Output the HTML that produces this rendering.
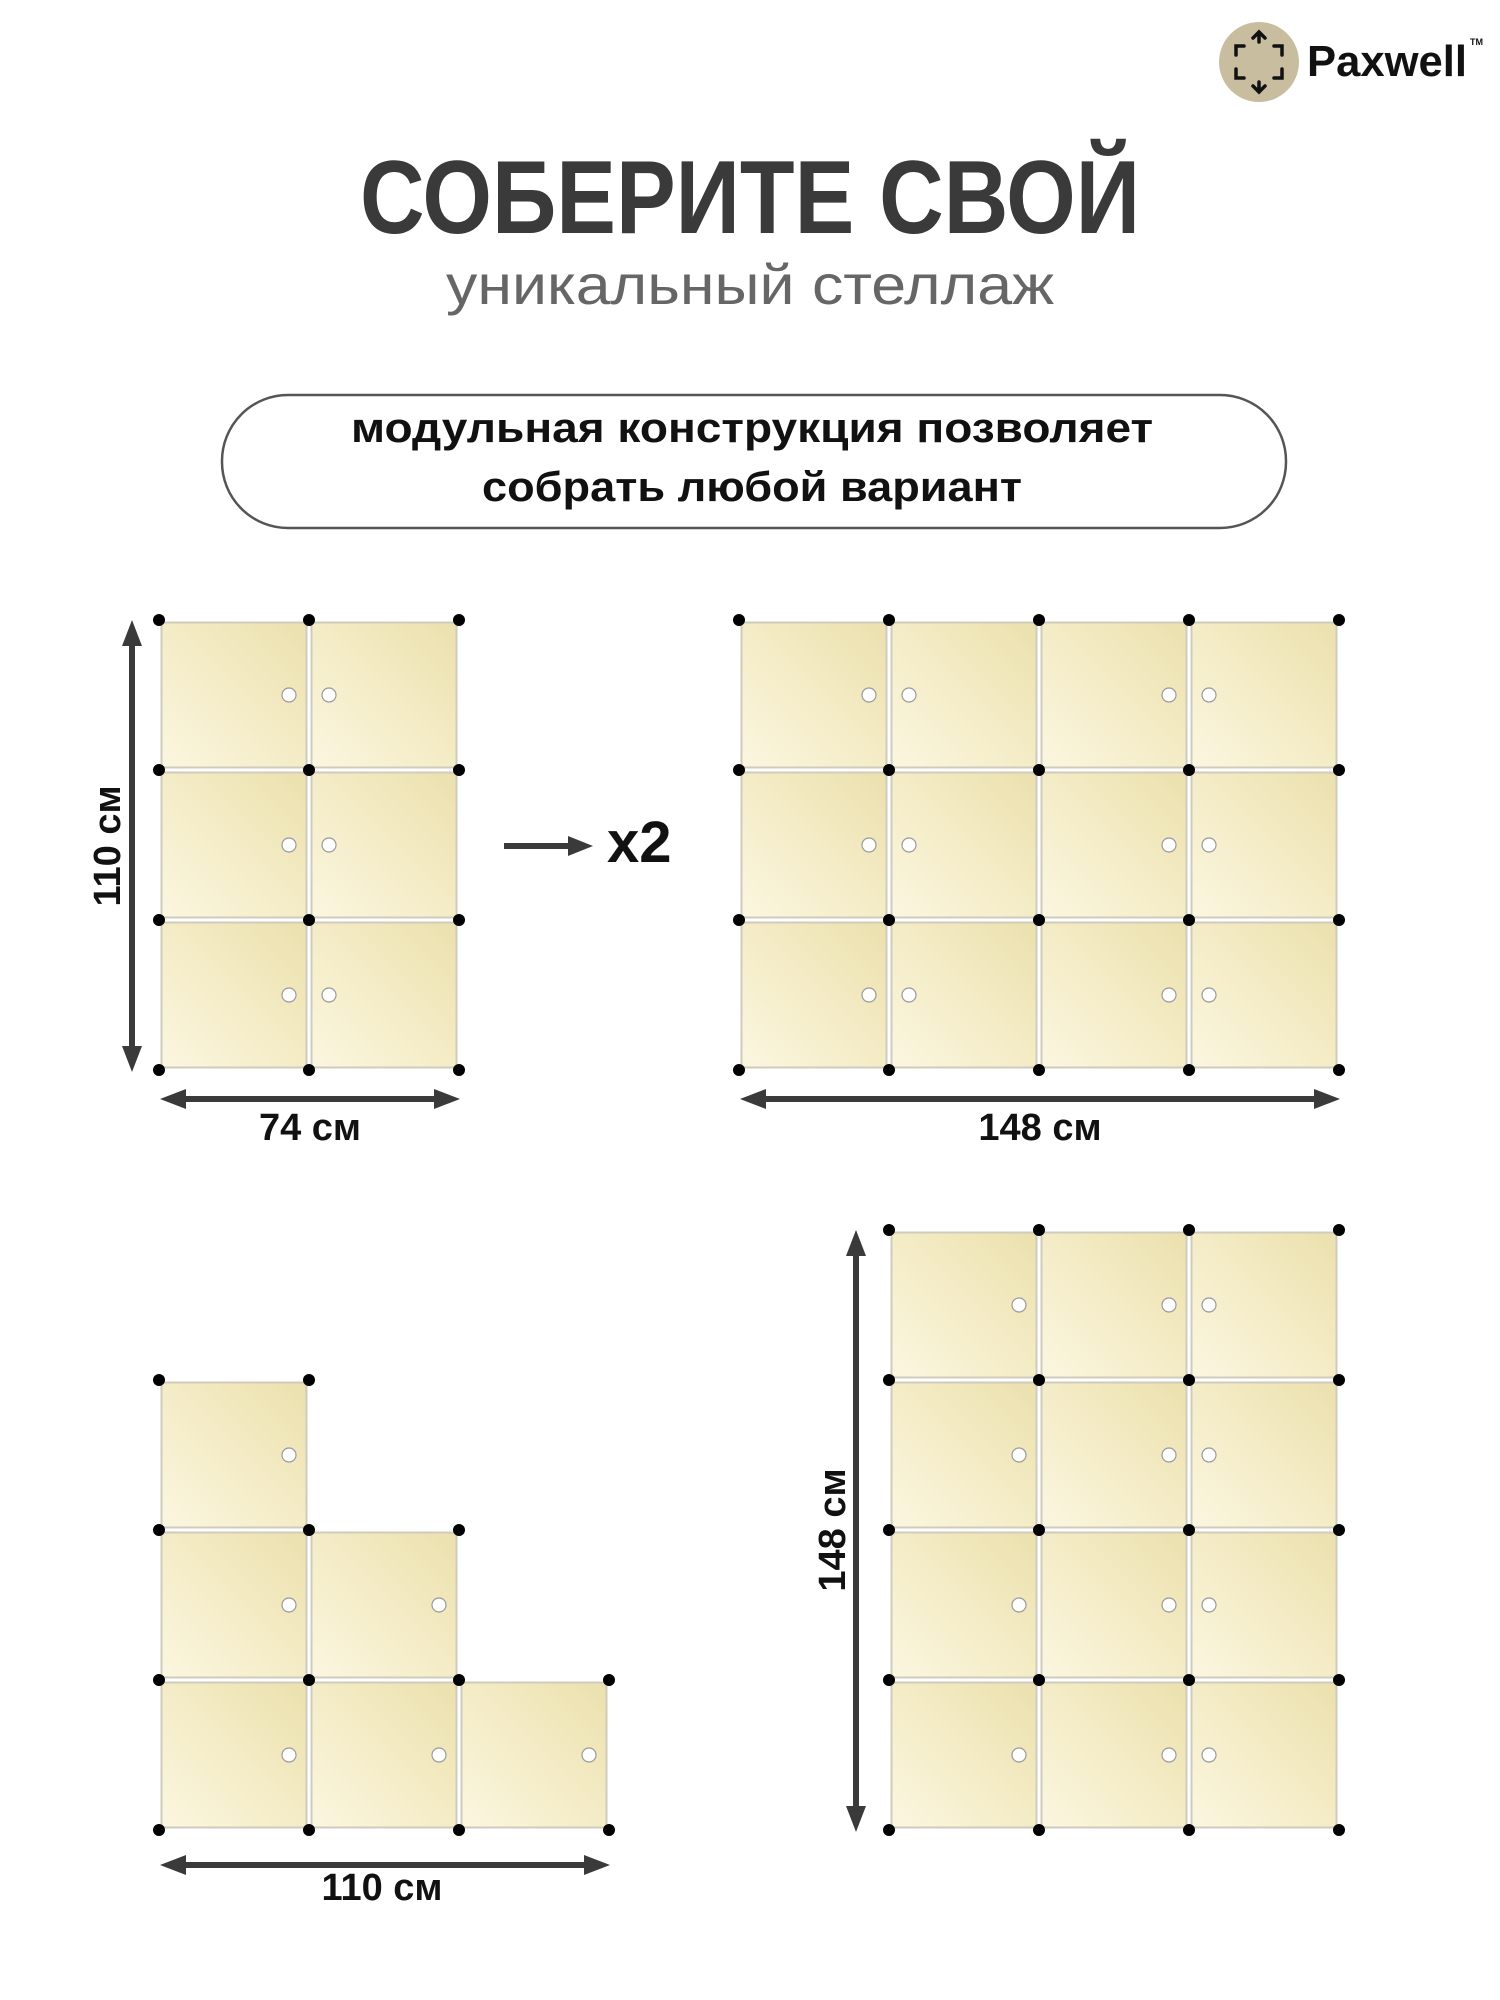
<!DOCTYPE html>
<html><head><meta charset="utf-8"><style>
html,body{margin:0;padding:0;background:#fff;}
svg{display:block;}
text{font-family:"Liberation Sans",sans-serif;}
</style></head><body>
<svg width="1500" height="2000" viewBox="0 0 1500 2000" xmlns="http://www.w3.org/2000/svg">
<defs>
<linearGradient id="g" x1="0" y1="1" x2="1" y2="0">
<stop offset="0" stop-color="#fbf6e0"/><stop offset="0.5" stop-color="#f4ecc6"/><stop offset="1" stop-color="#ebe0ad"/>
</linearGradient>
<g id="c"><rect x="2.5" y="2.5" width="145" height="145" fill="url(#g)" stroke="#cfcbbd" stroke-width="2"/></g>
<g id="R"><use href="#c"/><circle cx="130" cy="75" r="7" fill="#fff" stroke="#9a9a9a" stroke-width="1.2"/></g>
<g id="L"><use href="#c"/><circle cx="20" cy="75" r="7" fill="#fff" stroke="#9a9a9a" stroke-width="1.2"/></g>
<circle id="d" r="6" fill="#000"/>
</defs>

<!-- logo -->
<circle cx="1259" cy="62" r="40" fill="#c9bd9f"/>
<g stroke="#111" stroke-width="3.5" fill="none" stroke-linecap="round">
<path d="M1253 38 L1259 32 L1265 38 M1259 32 L1259 42"/>
<path d="M1253 86 L1259 92 L1265 86 M1259 92 L1259 82"/>
<path d="M1236 55 L1236 46 L1244 46"/>
<path d="M1282 55 L1282 46 L1274 46"/>
<path d="M1236 69 L1236 78 L1244 78"/>
<path d="M1282 69 L1282 78 L1274 78"/>
</g>
<text x="1307" y="76" font-size="44" font-weight="bold" fill="#111" textLength="160" lengthAdjust="spacingAndGlyphs">Paxwell</text>
<text x="1470" y="45" font-size="9" font-weight="bold" fill="#111">TM</text>

<!-- title -->
<text x="750" y="233" text-anchor="middle" font-size="104" font-weight="bold" fill="#3a3a3a" textLength="780" lengthAdjust="spacingAndGlyphs">СОБЕРИТЕ СВОЙ</text>
<text x="750" y="304" text-anchor="middle" font-size="56" fill="#666" textLength="608" lengthAdjust="spacingAndGlyphs">уникальный стеллаж</text>

<rect x="222" y="395" width="1064" height="133" rx="66" fill="#fff" stroke="#555" stroke-width="2.5"/>
<text x="752" y="442" text-anchor="middle" font-size="42" font-weight="bold" fill="#111" textLength="802" lengthAdjust="spacingAndGlyphs">модульная конструкция позволяет</text>
<text x="752" y="501" text-anchor="middle" font-size="42" font-weight="bold" fill="#111" textLength="540" lengthAdjust="spacingAndGlyphs">собрать любой вариант</text>

<!-- Grid1 -->
<g transform="translate(159,620)">
<use href="#R" x="0" y="0"/><use href="#L" x="150" y="0"/>
<use href="#R" x="0" y="150"/><use href="#L" x="150" y="150"/>
<use href="#R" x="0" y="300"/><use href="#L" x="150" y="300"/>
<use href="#d" x="0" y="0"/><use href="#d" x="150" y="0"/><use href="#d" x="300" y="0"/>
<use href="#d" x="0" y="150"/><use href="#d" x="150" y="150"/><use href="#d" x="300" y="150"/>
<use href="#d" x="0" y="300"/><use href="#d" x="150" y="300"/><use href="#d" x="300" y="300"/>
<use href="#d" x="0" y="450"/><use href="#d" x="150" y="450"/><use href="#d" x="300" y="450"/>
</g>
<g fill="#3a3a3a" stroke="none">
<rect x="129" y="640" width="6" height="410"/>
<polygon points="132,620 122,646 142,646"/><polygon points="132,1072 122,1046 142,1046"/>
<rect x="180" y="1096" width="258" height="6"/>
<polygon points="160,1099 186,1089 186,1109"/><polygon points="460,1099 434,1089 434,1109"/>
<rect x="760" y="1096" width="558" height="6"/>
<polygon points="740,1099 766,1089 766,1109"/><polygon points="1340,1099 1314,1089 1314,1109"/>
<rect x="504" y="843" width="70" height="6"/>
<polygon points="593,846 568,836 568,856"/>
<rect x="180" y="1862" width="408" height="6"/>
<polygon points="160,1865 186,1855 186,1875"/><polygon points="610,1865 584,1855 584,1875"/>
<rect x="853" y="1250" width="6" height="560"/>
<polygon points="856,1230 846,1256 866,1256"/><polygon points="856,1832 846,1806 866,1806"/>
</g>
<text transform="translate(120,846) rotate(-90)" text-anchor="middle" font-size="38" font-weight="bold" fill="#111">110 см</text>
<text x="310" y="1140" text-anchor="middle" font-size="38" font-weight="bold" fill="#111">74 см</text>
<text x="1040" y="1140" text-anchor="middle" font-size="38" font-weight="bold" fill="#111">148 см</text>
<text x="382" y="1900" text-anchor="middle" font-size="38" font-weight="bold" fill="#111">110 см</text>
<text transform="translate(845,1530) rotate(-90)" text-anchor="middle" font-size="38" font-weight="bold" fill="#111">148 см</text>
<text x="607" y="862" font-size="58" font-weight="bold" fill="#111">x2</text>

<!-- Grid2 -->
<g transform="translate(739,620)">
<use href="#R" x="0" y="0"/><use href="#L" x="150" y="0"/><use href="#R" x="300" y="0"/><use href="#L" x="450" y="0"/>
<use href="#R" x="0" y="150"/><use href="#L" x="150" y="150"/><use href="#R" x="300" y="150"/><use href="#L" x="450" y="150"/>
<use href="#R" x="0" y="300"/><use href="#L" x="150" y="300"/><use href="#R" x="300" y="300"/><use href="#L" x="450" y="300"/>
<use href="#d" x="0" y="0"/><use href="#d" x="150" y="0"/><use href="#d" x="300" y="0"/><use href="#d" x="450" y="0"/><use href="#d" x="600" y="0"/>
<use href="#d" x="0" y="150"/><use href="#d" x="150" y="150"/><use href="#d" x="300" y="150"/><use href="#d" x="450" y="150"/><use href="#d" x="600" y="150"/>
<use href="#d" x="0" y="300"/><use href="#d" x="150" y="300"/><use href="#d" x="300" y="300"/><use href="#d" x="450" y="300"/><use href="#d" x="600" y="300"/>
<use href="#d" x="0" y="450"/><use href="#d" x="150" y="450"/><use href="#d" x="300" y="450"/><use href="#d" x="450" y="450"/><use href="#d" x="600" y="450"/>
</g>

<!-- Grid3 -->
<g transform="translate(159,1380)">
<use href="#R" x="0" y="0"/>
<use href="#R" x="0" y="150"/><use href="#R" x="150" y="150"/>
<use href="#R" x="0" y="300"/><use href="#R" x="150" y="300"/><use href="#R" x="300" y="300"/>
<use href="#d" x="0" y="0"/><use href="#d" x="150" y="0"/>
<use href="#d" x="0" y="150"/><use href="#d" x="150" y="150"/><use href="#d" x="300" y="150"/>
<use href="#d" x="0" y="300"/><use href="#d" x="150" y="300"/><use href="#d" x="300" y="300"/><use href="#d" x="450" y="300"/>
<use href="#d" x="0" y="450"/><use href="#d" x="150" y="450"/><use href="#d" x="300" y="450"/><use href="#d" x="450" y="450"/>
</g>

<!-- Grid4 -->
<g transform="translate(889,1230)">
<use href="#R" x="0" y="0"/><use href="#R" x="150" y="0"/><use href="#L" x="300" y="0"/>
<use href="#R" x="0" y="150"/><use href="#R" x="150" y="150"/><use href="#L" x="300" y="150"/>
<use href="#R" x="0" y="300"/><use href="#R" x="150" y="300"/><use href="#L" x="300" y="300"/>
<use href="#R" x="0" y="450"/><use href="#R" x="150" y="450"/><use href="#L" x="300" y="450"/>
<use href="#d" x="0" y="0"/><use href="#d" x="150" y="0"/><use href="#d" x="300" y="0"/><use href="#d" x="450" y="0"/>
<use href="#d" x="0" y="150"/><use href="#d" x="150" y="150"/><use href="#d" x="300" y="150"/><use href="#d" x="450" y="150"/>
<use href="#d" x="0" y="300"/><use href="#d" x="150" y="300"/><use href="#d" x="300" y="300"/><use href="#d" x="450" y="300"/>
<use href="#d" x="0" y="450"/><use href="#d" x="150" y="450"/><use href="#d" x="300" y="450"/><use href="#d" x="450" y="450"/>
<use href="#d" x="0" y="600"/><use href="#d" x="150" y="600"/><use href="#d" x="300" y="600"/><use href="#d" x="450" y="600"/>
</g>
</svg>
</body></html>
